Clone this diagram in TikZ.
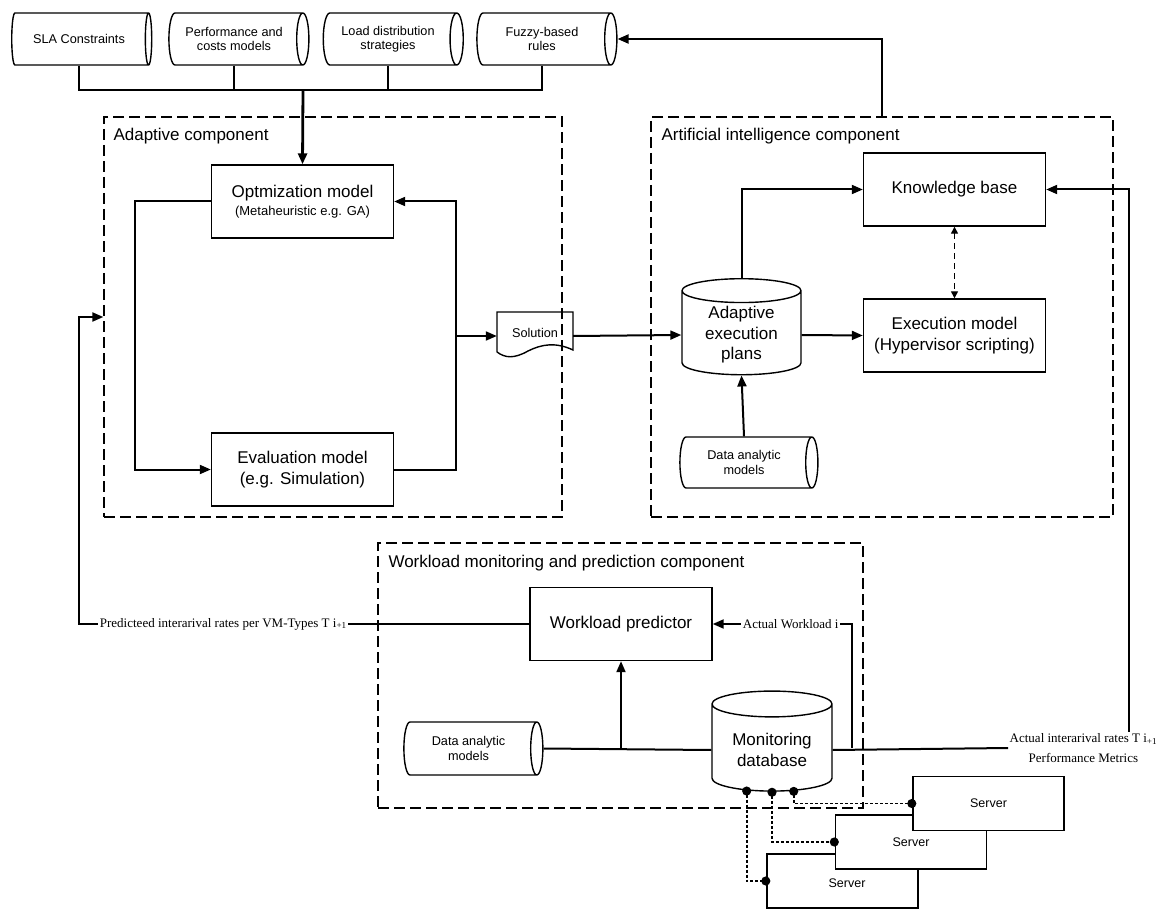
\documentclass[tikz,border=0pt]{standalone}
\usepackage{fontspec}
\setmainfont{Liberation Sans}
\newfontfamily\timesfont{Liberation Serif}
\usetikzlibrary{shapes.geometric}
\usetikzlibrary{arrows.meta}
\usetikzlibrary{calc}
\usetikzlibrary{positioning}

\tikzset{
  box/.style={draw, line width=1.4pt, fill=white, minimum width=182pt, minimum height=73pt, align=center, font=\fontsize{17}{21}\selectfont},
  store/.style={draw, cylinder, aspect=0.4, line width=1.4pt, minimum width=52pt, minimum height=140pt, align=center, font=\fontsize{12.7}{14.5}\selectfont},
  dbase/.style={draw, cylinder, shape border rotate=90, aspect=0.3, line width=1.4pt, align=center, font=\fontsize{17}{20.5}\selectfont},
  server/.style={draw, line width=1.4pt, fill=white, minimum width=151pt, minimum height=54pt, font=\fontsize{12.5}{14}\selectfont},
  group/.style={draw, dash pattern=on 11pt off 5pt, line width=1.3pt},
  grouptitle/.style={anchor=west, font=\fontsize{17}{20}\selectfont},
  edgelabel/.style={fill=white, inner sep=1.5pt, font=\timesfont\fontsize{13}{20}\selectfont},
  link/.style={line width=2pt},
  arrow/.style={link, -{Triangle[length=11pt,width=9pt]}},
  dasharrow/.style={line width=1.3pt, dash pattern=on 6pt off 4pt, {Triangle[length=7pt,width=7pt]}-{Triangle[length=7pt,width=7pt]}},
  dotlink/.style={line width=1.8pt, dash pattern=on 3pt off 2pt, {Circle[length=9pt]}-{Circle[length=9pt]}, shorten <=-4pt, shorten >=-4pt},
}

\begin{document}
\begin{tikzpicture}[x=1pt, y=-1pt]
  \useasboundingbox (0,0) rectangle (1159,909);

  % Stored models
  \node[store] (sla) at (79,39) {SLA Constraints};
  \node[store] (perf) at (234,39) {Performance and\\costs models};
  \node[store] (load) at (388,39) {Load distribution\\strategies};
  \node[store] (fuzzy) at (542,39) {Fuzzy-based\\rules};
  \coordinate (bus) at (303,90);

  % Component frames
  \node[group, minimum width=458pt, minimum height=400pt] (adapt) at (333,317) {};
  \node[grouptitle] (adapttitle) at (110,136) {Adaptive component};
  \node[group, minimum width=462pt, minimum height=400pt] (aic) at (882,317) {};
  \node[grouptitle] (aititle) at (658,136) {Artificial intelligence component};
  \node[group, minimum width=485pt, minimum height=265pt] (wlc) at (620.5,675.5) {};
  \node[grouptitle] (wltitle) at (385,563) {Workload monitoring and prediction component};

  % Adaptive component
  \node[box] (opt) at (302.5,201.5) {Optmization model\\[-3pt]{\fontsize{13}{15}\selectfont(Metaheuristic e.g. GA)}};
  \node[box] (eval) at (302.5,469.5) {Evaluation model\\(e.g. Simulation)};
  \node[minimum width=76pt, minimum height=48pt, font=\fontsize{12.7}{14}\selectfont] (sol) at (535,336) {\raisebox{6pt}{Solution}};
  \draw[line width=1.4pt] (497,352) -- (497,312) -- (573,312) -- (573,350)
    .. controls (556,342) and (542,344) .. (528,351) .. controls (514,359) and (505,358) .. (497,352);

  % Artificial intelligence component
  \node[box] (kb) at (954.5,189.5) {Knowledge base};
  \node[box] (exec) at (954.5,335.5) {Execution model\\(Hypervisor scripting)};
  \node[dbase, minimum width=119pt, minimum height=96pt] (aep) at (741.5,335) {Adaptive\\execution\\plans};
  \node[store, minimum width=51pt, minimum height=138pt] (dam) at (744,462.5) {Data analytic\\models};

  % Workload monitoring and prediction component
  \node[box] (wp) at (621,624) {Workload predictor};
  \node[store, minimum width=53pt, minimum height=139pt] (dmw) at (468.5,748.5) {Data analytic\\models};
  \node[dbase, minimum width=120pt, minimum height=100pt] (mdb) at (772,750) {Monitoring\\database};
  \node[edgelabel, fill=none, anchor=west, align=center] (actual) at (1008,748) {Actual interarival rates T i\textsubscript{+1}\\Performance Metrics};

  % Servers
  \node[server] (s3) at (842.5,881) {};
  \node[font=\fontsize{12.5}{14}\selectfont] (s3text) at (847,883) {Server};
  \node[server] (s2) at (911,842) {Server};
  \node[server] (s1) at (988.5,803.5) {Server};

  % Connectors
  \draw[link] (sla.south) |- (bus);
  \draw[link] (perf.south) |- (bus);
  \draw[link] (load.south) |- (bus);
  \draw[link] (fuzzy.south) |- (bus);
  \draw[arrow, line width=2.8pt] (bus) -- (opt.north);
  \draw[arrow] (aic.north) |- (fuzzy.east);

  \draw[arrow] (opt.west) -- ++(-76,0) |- (eval.west);
  \coordinate (loopr) at ($(eval.east)+(62,0)$);
  \draw[arrow] (eval.east) -- (loopr) |- (opt.east);
  \draw[arrow] (loopr |- sol.west) -- (sol.west);
  \draw[arrow] (sol.east) -- (aep.west);

  \draw[arrow] (aep.north) |- (kb.west);
  \draw[arrow] (aep.east) -- (exec.west);
  \draw[dasharrow] (kb.south) -- (exec.north);
  \draw[arrow] (dam.north) -- (aep.south);
  \draw[arrow] ([xshift=46pt]actual.north) |- (kb.east);

  \draw[link] (dmw.east) -- (mdb.west);
  \draw[arrow] (wp.south |- dmw.east) -- (wp.south);
  \draw[link] (mdb.east) -- (actual.west);
  \coordinate (jw) at (852,748);
  \draw[arrow] (jw) |- node[edgelabel, pos=0.72] {Actual Workload i} (wp.east);
  \draw[arrow] (wp.west) -- node[edgelabel, pos=0.68] {Predicteed interarival rates per VM-Types T i\textsubscript{+1}} ++(-450,0) |- (adapt.west);

  \draw[dotlink] (mdb.-62) |- (s1.west);
  \draw[dotlink] (mdb.south) |- (s2.west);
  \draw[dotlink] (mdb.-122) |- (s3.west);
\end{tikzpicture}
\end{document}
